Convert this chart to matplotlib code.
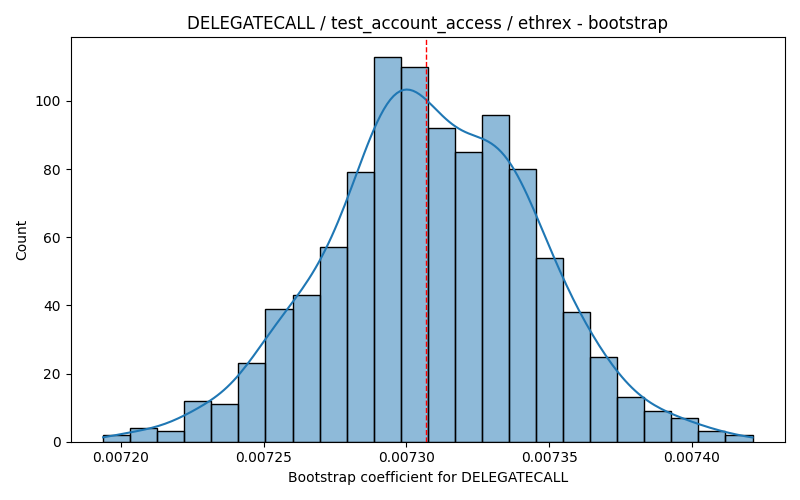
import numpy as np
import matplotlib
matplotlib.use("Agg")
import matplotlib.pyplot as plt
import seaborn as sns

# Histogram data
bin_left = 0.0071938
bin_right = 0.0074212
counts = [2, 4, 3, 12, 11, 23, 39, 43, 57, 79, 113, 110, 92, 85, 96, 80,
          54, 38, 25, 13, 9, 7, 3, 2]
ref_value = 0.00730695

title = "DELEGATECALL / test_account_access / ethrex - bootstrap"
xlabel = "Bootstrap coefficient for DELEGATECALL"
ylabel = "Count"

edges = np.linspace(bin_left, bin_right, len(counts) + 1)
centers = (edges[:-1] + edges[1:]) / 2
samples = np.repeat(centers, counts)

fig, ax = plt.subplots(figsize=(8, 5), dpi=100)
sns.histplot(samples, bins=edges, kde=True, ax=ax,
             kde_kws={"cut": 3, "clip": (edges[0], edges[-1]), "bw_adjust": 1.06})
ax.axvline(ref_value, color="red", linestyle="--", linewidth=1)
ax.set_title(title)
ax.set_xlabel(xlabel)
ax.set_ylabel(ylabel)
fig.tight_layout()
fig.savefig("out.png", dpi=100)
